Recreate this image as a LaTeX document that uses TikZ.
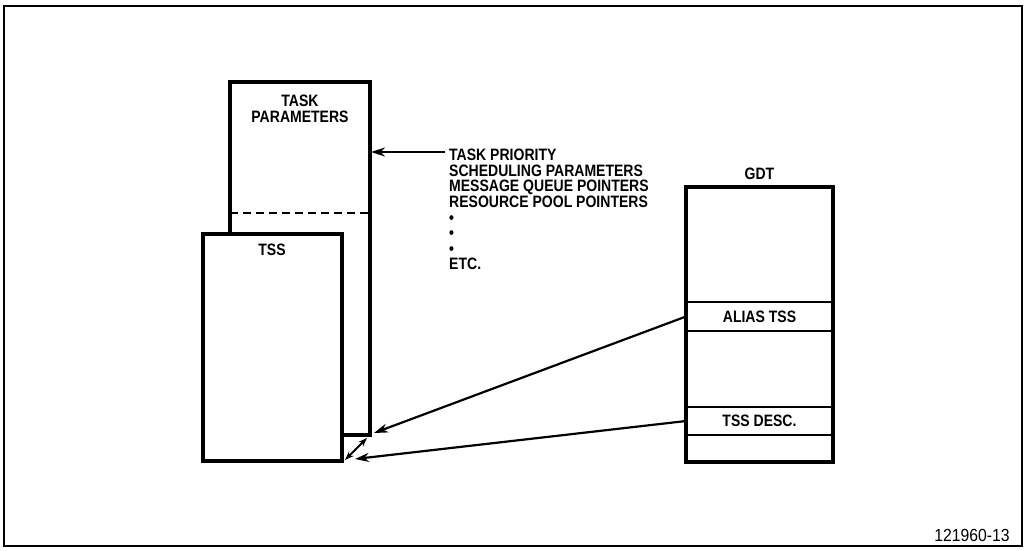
\documentclass[tikz,border=0pt]{standalone}
\usepackage{fontspec}
\setmainfont{Liberation Sans}
\newfontfamily\condfont[FakeStretch=0.85]{Liberation Sans}
\newfontfamily\condnum[FakeStretch=0.9]{Liberation Sans}
\usetikzlibrary{arrows.meta}
\begin{document}
\begin{tikzpicture}[x=1pt,y=-1pt,
  box/.style={draw, line width=3.6pt, inner sep=0pt, outer sep=0pt, anchor=north west, fill=white},
  rowbox/.style={draw, line width=2.6pt, inner sep=0pt, outer sep=0pt, anchor=north west, minimum width=147pt,
                 font=\condfont\fontsize{16.5}{15.6}\selectfont\bfseries},
  lbl/.style={font=\condfont\fontsize{16.5}{15.6}\selectfont\bfseries, inner sep=0pt},
  arr/.style={line width=2.2pt, -{Stealth[length=14pt,width=9pt]}},
  dbl/.style={line width=1.8pt, {Stealth[length=9pt,width=6.5pt]}-{Stealth[length=9pt,width=6.5pt]}},
]
\useasboundingbox (0,0) rectangle (1025,550);
\draw[line width=2.6pt] (4,6) rectangle (1022,546);

% task parameters box
\node[box, minimum width=140pt, minimum height=353pt] (params) at (230,82) {};
\coordinate (dl) at (230,213);
\coordinate (dr) at (370,213);
\draw[line width=2.6pt, dash pattern=on 8pt off 5pt] (dl) -- (dr);
\node[lbl, align=center, anchor=north] (ptext) at (300,95) {TASK\\[0.6pt]PARAMETERS};

% TSS box
\node[box, minimum width=139pt, minimum height=227pt] (tss) at (203,234) {};
\node[lbl, anchor=north] (tsstext) at (272,244) {TSS};

% list
\coordinate (listarrow) at (445,152);
\coordinate (listtip) at (371,152);
\draw[arr] (listarrow) -- (listtip);
\node[lbl, align=left, anchor=north west] (list) at (449,149)
  {TASK PRIORITY\\SCHEDULING PARAMETERS\\MESSAGE QUEUE POINTERS\\RESOURCE POOL POINTERS\\%
   \textbullet\\\textbullet\\\textbullet\\ETC.};

% GDT
\node[box, minimum width=147pt, minimum height=275pt] (gdt) at (686,187) {};
\node[lbl, anchor=base] (gdttext) at (759.5,179) {GDT};
\node[rowbox, minimum height=29pt] (alias) at (686,302) {ALIAS TSS};
\node[rowbox, minimum height=28pt] (desc) at (686,407) {TSS DESC.};

% connectors
\coordinate (aliastip) at (374,433);
\coordinate (desctip) at (355,459);
\coordinate (dbla) at (367,438);
\coordinate (dblb) at (345,460);
\draw[arr] (alias.west) -- (aliastip);
\draw[arr] (desc.west) -- (desctip);
\draw[dbl] (dbla) -- (dblb);

\node[font=\condnum\fontsize{17.5}{16}\selectfont, inner sep=0pt, anchor=base] (fig) at (972,541) {121960-13};
\end{tikzpicture}
\end{document}
